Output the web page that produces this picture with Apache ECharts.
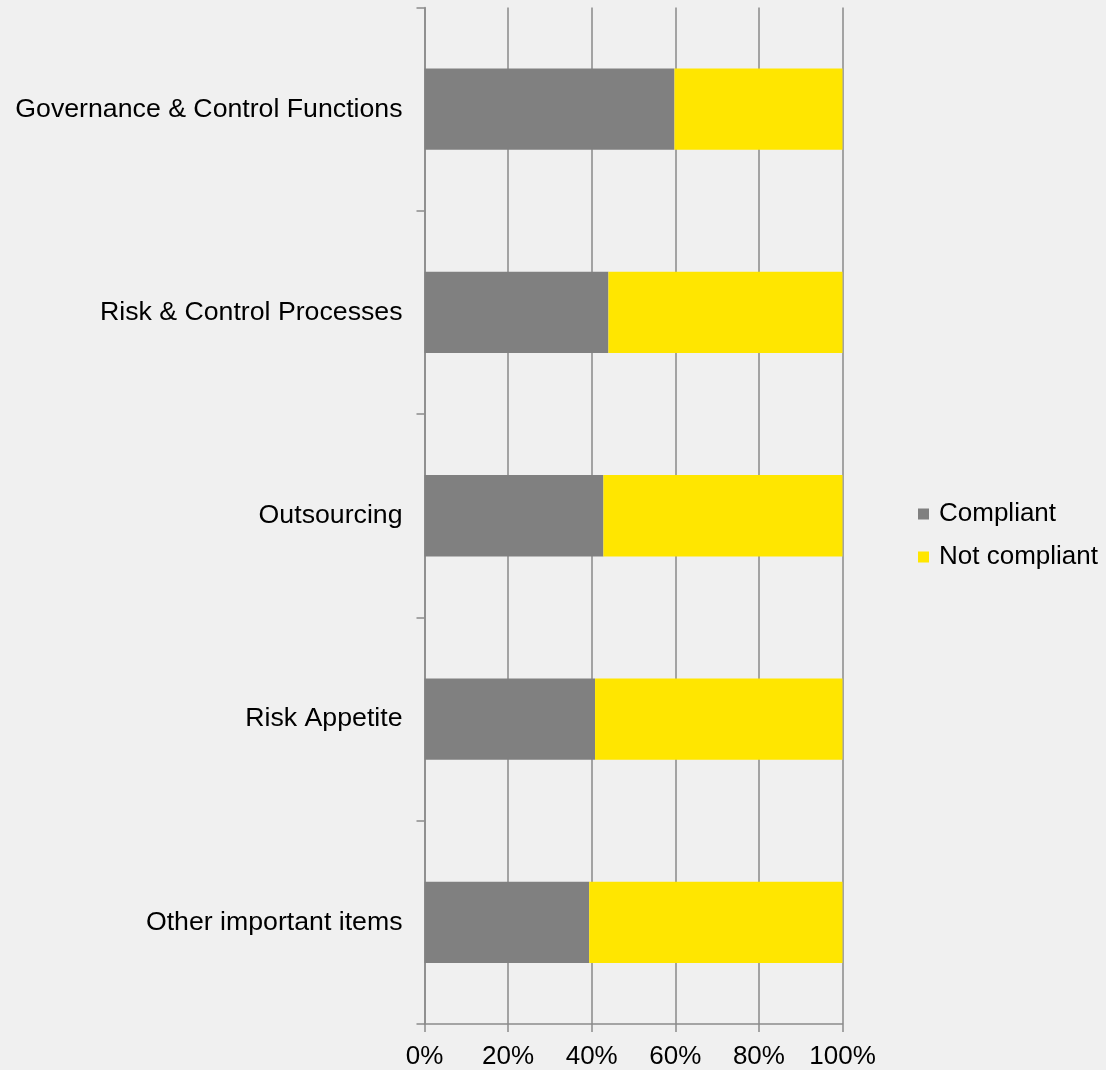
<!DOCTYPE html>
<html>
<head>
<meta charset="utf-8">
<style>
  html, body { margin: 0; padding: 0; background: #f0f0f0; }
  #chart { width: 1106px; height: 1070px; }
</style>
<script src="https://cdn.jsdelivr.net/npm/echarts@6/dist/echarts.min.js"></script>
</head>
<body>
<div id="chart"></div>
<script>
// Compliance share by area, percent of items
const categories = [
  'Governance & Control Functions',
  'Risk & Control Processes',
  'Outsourcing',
  'Risk Appetite',
  'Other important items'
];
const compliant = [59.8, 44, 42.8, 40.8, 39.4];
const notCompliant = [40.2, 56, 57.2, 59.2, 60.6];
const seriesNames = ['Compliant', 'Not compliant'];
const seriesColors = ['#808080', '#ffe600'];

const FONT = '"Liberation Sans", Arial, sans-serif';
const AXIS_GREY = '#8a8a8a';

const chart = echarts.init(document.getElementById('chart'));
chart.setOption({
  backgroundColor: '#f0f0f0',
  animation: false,
  textStyle: { fontFamily: FONT },
  grid: { left: 424.5, right: 263.5, top: 7.5, bottom: 43.5, containLabel: false },
  legend: {
    orient: 'vertical',
    left: 918,
    top: 501,
    padding: 0,
    itemWidth: 11,
    itemHeight: 11,
    itemGap: 17,
    icon: 'rect',
    data: seriesNames,
    textStyle: { fontFamily: FONT, fontSize: 26, color: '#000', lineHeight: 26, padding: [0, 0, 0, 5] }
  },
  xAxis: {
    type: 'value',
    min: 0,
    max: 100,
    interval: 20,
    axisLine: { show: true, lineStyle: { color: AXIS_GREY, width: 1.5 } },
    axisTick: { show: true, length: 8, lineStyle: { color: AXIS_GREY, width: 1.5 } },
    splitLine: { show: true, lineStyle: { color: AXIS_GREY, width: 1.5 } },
    axisLabel: { formatter: '{value}%', fontFamily: FONT, fontSize: 26, color: '#000', margin: 20 }
  },
  yAxis: {
    type: 'category',
    inverse: true,
    data: categories,
    axisLine: { show: true, lineStyle: { color: AXIS_GREY, width: 1.5 } },
    axisTick: { show: true, length: 8, lineStyle: { color: AXIS_GREY, width: 1.5 } },
    axisLabel: { fontFamily: FONT, fontSize: 26.7, color: '#000', margin: 22 }
  },
  series: [
    {
      name: seriesNames[0],
      type: 'bar',
      stack: 'total',
      barWidth: '40%',
      itemStyle: { color: seriesColors[0] },
      data: compliant
    },
    {
      name: seriesNames[1],
      type: 'bar',
      stack: 'total',
      barWidth: '40%',
      itemStyle: { color: seriesColors[1] },
      data: notCompliant
    }
  ]
});
</script>
</body>
</html>
